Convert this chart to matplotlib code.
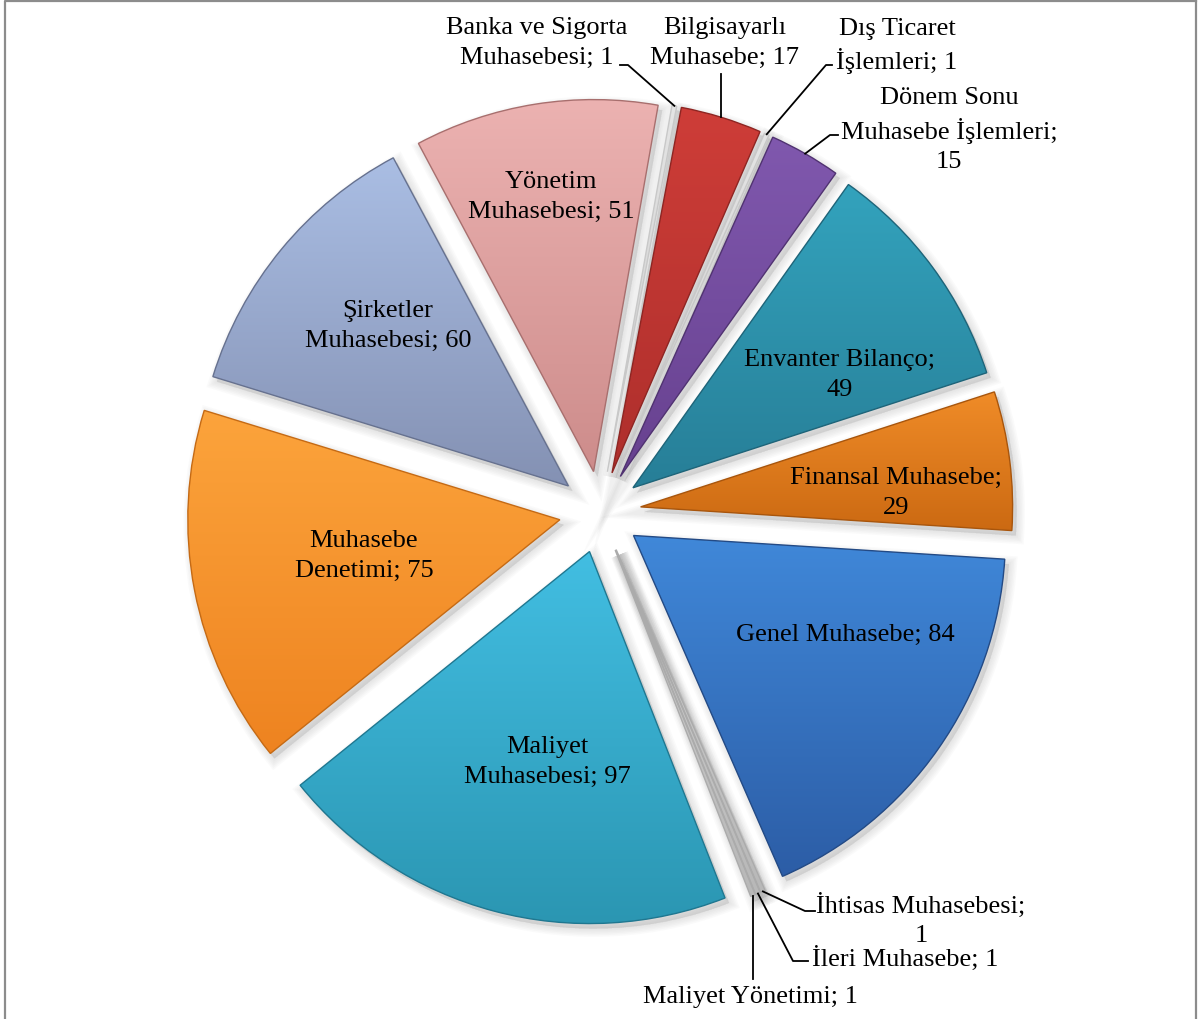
import numpy as np
import matplotlib.pyplot as plt
from matplotlib.patches import Wedge

# data kategori dan jumlah
kategori = ["Banka ve Sigorta\nMuhasebesi", "Bilgisayarlı\nMuhasebe", "Dış Ticaret\nİşlemleri",
            "Dönem Sonu\nMuhasebe İşlemleri", "Envanter Bilanço", "Finansal Muhasebe",
            "Genel Muhasebe", "İhtisas Muhasebesi", "İleri Muhasebe", "Maliyet Yönetimi",
            "Maliyet\nMuhasebesi", "Muhasebe\nDenetimi", "Şirketler\nMuhasebesi", "Yönetim\nMuhasebesi"]
nilai = [1, 17, 1, 15, 49, 29, 84, 1, 1, 1, 97, 75, 60, 51]
pemisah = ["; ", "; ", "; ", ";\n", ";\n", ";\n", "; ", ";\n", "; ", "; ", "; ", "; ", "; ", "; "]

# warna gradasi (atas, bawah); irisan sangat kecil hampir tak terlihat (abu-abu)
warna_atas = ["#E4E4E4", "#CE3D38", "#E4E4E4", "#8058AE", "#33A3BD", "#F08C28", "#4088D9",
              "#D2D2D2", "#D2D2D2", "#D2D2D2", "#42BEE2", "#FCA43C", "#AABEE4", "#ECB2B1"]
warna_bawah = ["#D0D0D0", "#AE2F2C", "#D0D0D0", "#67418F", "#277E97", "#CB6912", "#2C5DA6",
               "#B8B8B8", "#B8B8B8", "#B8B8B8", "#2B96B2", "#EE8320", "#8491B3", "#CD8C8B"]
warna_tepi = ["#C8C8C8", "#8E2522", "#C8C8C8", "#503271", "#1E6479", "#A8550C", "#234A85",
              "#ABABAB", "#ABABAB", "#ABABAB", "#1F7790", "#C56A14", "#66718F", "#A86F6E"]

W, H = 1198, 1020
pusat = (600, H - 513)
jari = 372

fig = plt.figure(figsize=(W / 100, H / 100), dpi=100)
ax = fig.add_axes([0, 0, 1, 1])

# explode pada pie matplotlib dalam satuan data, jadi dikali jari-jari
wedges, _ = ax.pie(nilai, colors=warna_atas, startangle=80, counterclock=False,
                   explode=[0.11 * jari] * len(nilai), radius=jari, center=pusat,
                   wedgeprops=dict(linewidth=0))

for i, w in enumerate(wedges):
    cx, cy = w.center
    # bayangan
    for k in range(6):
        s = Wedge((cx + 4, cy - 5), w.r, w.theta1, w.theta2, facecolor="#808080",
                  edgecolor="#808080", linewidth=1 + 2.2 * k, alpha=0.035, zorder=1)
        ax.add_patch(s)
    # gradasi vertikal
    t = np.linspace(np.radians(w.theta1), np.radians(w.theta2), 60)
    ys = np.concatenate([[cy], cy + w.r * np.sin(t)])
    xs = np.concatenate([[cx], cx + w.r * np.cos(t)])
    c1 = np.array(plt.matplotlib.colors.to_rgb(warna_atas[i]))
    c2 = np.array(plt.matplotlib.colors.to_rgb(warna_bawah[i]))
    f = np.linspace(0, 1, 100)[:, None]
    grad = (c2 * (1 - f) + c1 * f)[:, None, :]
    im = ax.imshow(grad, extent=(xs.min() - 2, xs.max() + 2, ys.min() - 2, ys.max() + 2),
                   origin="lower", aspect="auto", interpolation="bilinear", zorder=2)
    im.set_clip_path(w)
    w.set_facecolor("none")
    w.set_edgecolor(warna_tepi[i])
    w.set_linewidth(1.0)
    w.set_zorder(3)

# posisi label (koordinat gambar)
posisi = [(537, 43), (725, 43), (897, 46), (949, 130), (840, 375), (896, 493), (845, 635),
          (921, 920), (905, 958), (750, 997), (547, 762), (364, 556), (388, 326), (551, 197)]

for i in range(len(nilai)):
    x, y = posisi[i]
    ax.text(x, H - y, kategori[i] + pemisah[i] + str(nilai[i]), ha="center", va="center",
            fontsize=19, family="Liberation Serif", linespacing=1.42, zorder=5)

# garis penunjuk label kecil
penunjuk = {0: [(620, 66), (628, 66)], 1: [(None, 75)], 2: [(832, 66), (826, 66)],
            3: [(838, 136), (830, 136)], 7: [(815, 912), (805, 912)],
            8: [(808, 962), (793, 962)], 9: [(None, 980)]}
for i, titik in penunjuk.items():
    w = wedges[i]
    a = np.radians((w.theta1 + w.theta2) / 2)
    ux = w.center[0] + w.r * np.cos(a)
    uy = w.center[1] + w.r * np.sin(a)
    px = [ux if p[0] is None else p[0] for p in titik] + [ux]
    py = [H - p[1] for p in titik] + [uy]
    ax.plot(px, py, color="black", linewidth=1.3, zorder=4)

# bingkai
ax.plot([5, 5, 1196], [0, H - 1.5, H - 1.5], color="#8C8C8C", linewidth=1.6, zorder=6)
ax.plot([1196, 1196], [0, H - 1.5], color="#8C8C8C", linewidth=1.6, zorder=6)

ax.set_xlim(0, W)
ax.set_ylim(0, H)
ax.axis("off")

fig.savefig("out.png", dpi=100)
